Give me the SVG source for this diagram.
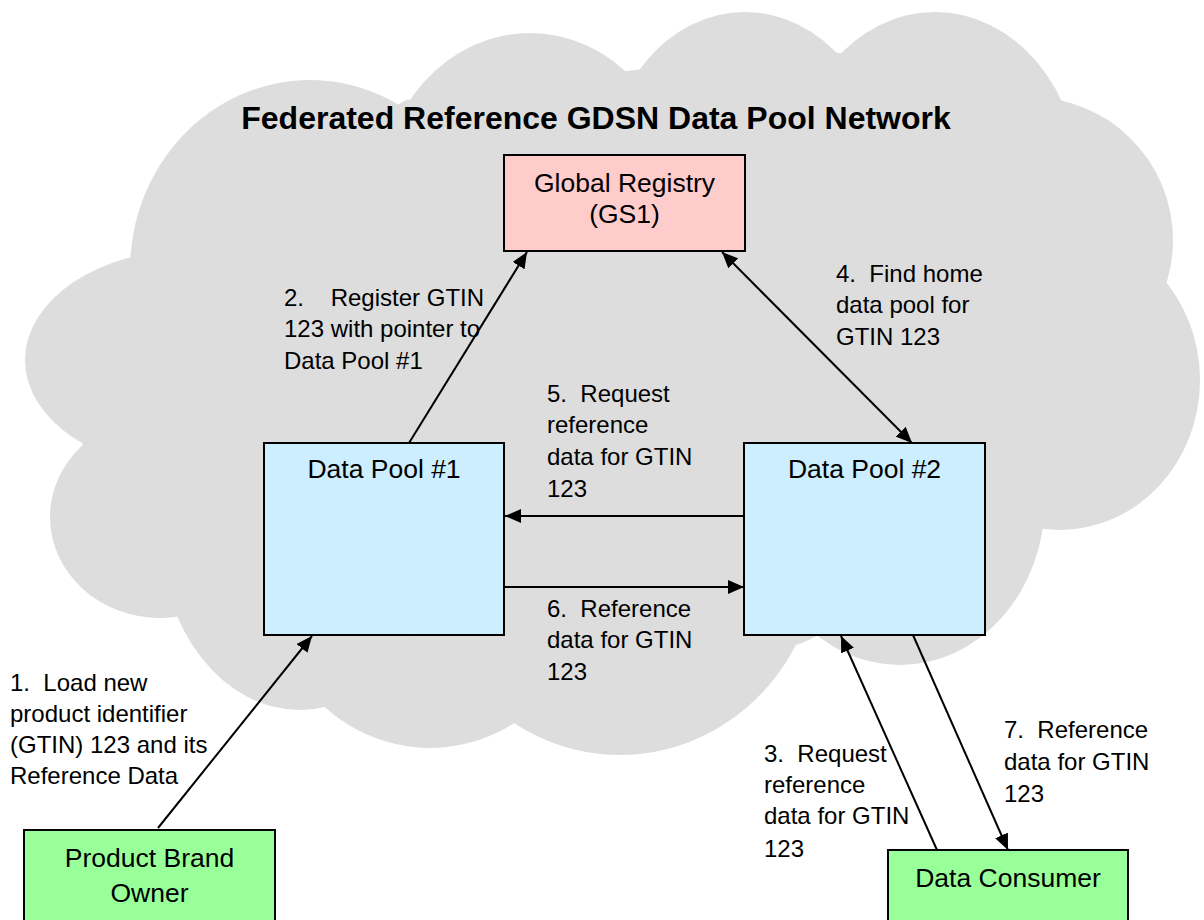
<svg xmlns="http://www.w3.org/2000/svg" width="1204" height="920" viewBox="0 0 1204 920">
  <style>
    .cloud { fill: #dddddd; }
    .box { stroke: #000; stroke-width: 2; }
    .registry { fill: #ffcccc; }
    .pool { fill: #cceeff; }
    .party { fill: #99ff99; }
    .title { font-family: "Liberation Sans", Arial, sans-serif; font-size: 32px; font-weight: bold; fill: #000; text-anchor: middle; }
    .node-text { font-family: "Liberation Sans", Arial, sans-serif; font-size: 26.5px; fill: #000; text-anchor: middle; }
    .label { font-family: "Liberation Sans", Arial, sans-serif; font-size: 24px; fill: #000; }
    .edge { stroke: #000; stroke-width: 2; fill: none; }
  </style>
  <defs>
    <marker id="arrow" viewBox="0 0 16 14" refX="16" refY="7" markerWidth="16" markerHeight="14" markerUnits="userSpaceOnUse" orient="auto-start-reverse">
      <path d="M0,0 L16,7 L0,14 z" fill="#000"/>
    </marker>
  </defs>

  <!-- network cloud: union of overlapping lobes -->
  <g id="cloud" class="cloud">
    <polygon points="130,258 406,100 635,70 835,52 1067,107 1164,277 1042,530 802,643 517,723 330,707 182,618 82,447"/>
    <ellipse cx="190" cy="360" rx="165" ry="110"/>
    <ellipse cx="310" cy="270" rx="180" ry="190"/>
    <ellipse cx="530" cy="200" rx="150" ry="167"/>
    <ellipse cx="745" cy="180" rx="140" ry="168"/>
    <ellipse cx="935" cy="185" rx="145" ry="173"/>
    <circle cx="1030" cy="240" r="143"/>
    <ellipse cx="1060" cy="380" rx="140" ry="150"/>
    <ellipse cx="900" cy="500" rx="145" ry="165"/>
    <ellipse cx="620" cy="545" rx="200" ry="210"/>
    <ellipse cx="430" cy="558" rx="170" ry="190"/>
    <ellipse cx="300" cy="530" rx="140" ry="180"/>
    <ellipse cx="160" cy="517" rx="110" ry="101"/>
  </g>

  <text class="title" x="596" y="129">Federated Reference GDSN Data Pool Network</text>

  <g id="global-registry">
    <rect class="box registry" x="504" y="155" width="241" height="96"/>
    <text class="node-text" x="624.5" y="192">Global Registry</text>
    <text class="node-text" x="624.5" y="223">(GS1)</text>
  </g>

  <g id="data-pool-1">
    <rect class="box pool" x="264" y="443" width="240" height="192"/>
    <text class="node-text" x="384" y="478">Data Pool #1</text>
  </g>

  <g id="data-pool-2">
    <rect class="box pool" x="744" y="443" width="241" height="192"/>
    <text class="node-text" x="864.5" y="478">Data Pool #2</text>
  </g>

  <g id="product-brand-owner">
    <rect class="box party" x="24" y="830" width="251" height="100"/>
    <text class="node-text" x="149.5" y="867">Product Brand</text>
    <text class="node-text" x="149.5" y="902">Owner</text>
  </g>

  <g id="data-consumer">
    <rect class="box party" x="888" y="850" width="240" height="80"/>
    <text class="node-text" x="1008" y="887">Data Consumer</text>
  </g>

  <g id="connectors">
    <path class="edge" d="M158,828 L312,636" marker-end="url(#arrow)"/>
    <path class="edge" d="M409,443 L527,252" marker-end="url(#arrow)"/>
    <path class="edge" d="M722,252 L912,443" marker-start="url(#arrow)" marker-end="url(#arrow)"/>
    <path class="edge" d="M744,516 L505,516" marker-end="url(#arrow)"/>
    <path class="edge" d="M505,587 L744,587" marker-end="url(#arrow)"/>
    <path class="edge" d="M937,850 L841,636" marker-end="url(#arrow)"/>
    <path class="edge" d="M913,635 L1008,850" marker-end="url(#arrow)"/>
  </g>

  <g id="connector-labels" class="label">
    <text class="label" xml:space="preserve" x="10" y="691">1.  Load new</text>
    <text class="label" x="10" y="722">product identifier</text>
    <text class="label" x="10" y="753">(GTIN) 123 and its</text>
    <text class="label" x="10" y="784">Reference Data</text>

    <text class="label" xml:space="preserve" x="284" y="306">2.    Register GTIN</text>
    <text class="label" x="284" y="337">123 with pointer to</text>
    <text class="label" x="284" y="369">Data Pool #1</text>

    <text class="label" xml:space="preserve" x="764" y="762">3.  Request</text>
    <text class="label" x="764" y="793">reference</text>
    <text class="label" x="764" y="824">data for GTIN</text>
    <text class="label" x="764" y="857">123</text>

    <text class="label" xml:space="preserve" x="836" y="282">4.  Find home</text>
    <text class="label" x="836" y="313">data pool for</text>
    <text class="label" x="836" y="345">GTIN 123</text>

    <text class="label" xml:space="preserve" x="547" y="402">5.  Request</text>
    <text class="label" x="547" y="433">reference</text>
    <text class="label" x="547" y="465">data for GTIN</text>
    <text class="label" x="547" y="497">123</text>

    <text class="label" xml:space="preserve" x="547" y="617">6.  Reference</text>
    <text class="label" x="547" y="648">data for GTIN</text>
    <text class="label" x="547" y="680">123</text>

    <text class="label" xml:space="preserve" x="1004" y="738">7.  Reference</text>
    <text class="label" x="1004" y="770">data for GTIN</text>
    <text class="label" x="1004" y="802">123</text>
  </g>
</svg>
